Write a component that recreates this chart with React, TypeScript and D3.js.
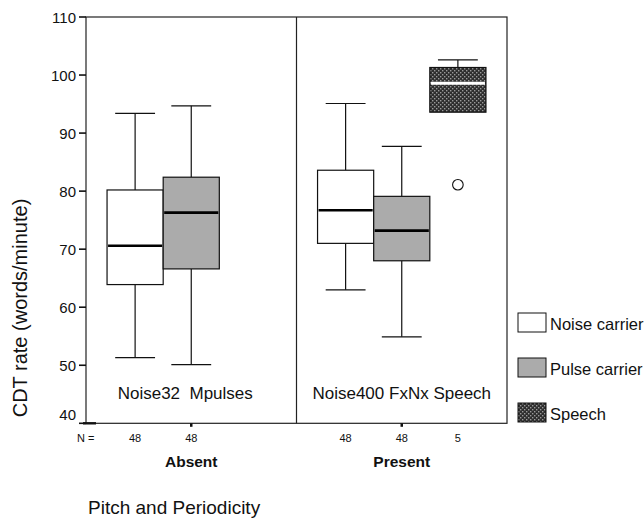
import React from "react";
import * as d3 from "d3";

const groups = ["Absent", "Present"];
const carriers = ["Noise carrier", "Pulse carrier", "Speech"];
const panelLabels = ["Noise32  Mpulses", "Noise400 FxNx Speech"];
const yTicks = [40, 50, 60, 70, 80, 90, 100, 110];

const boxGroup = ["Absent", "Absent", "Present", "Present", "Present"];
const boxCarrier = ["Noise carrier", "Pulse carrier", "Noise carrier", "Pulse carrier", "Speech"];
const whiskerLow = [51.3, 50.1, 63.0, 54.9, 93.6];
const q1 = [63.9, 66.6, 71.0, 68.0, 93.6];
const median = [70.6, 76.3, 76.7, 73.2, 98.6];
const q3 = [80.2, 82.4, 83.6, 79.1, 101.3];
const whiskerHigh = [93.4, 94.7, 95.1, 87.7, 102.6];
const nCounts = [48, 48, 48, 48, 5];
const outlierBox = [4];
const outlierValue = [81.1];

const W = 644;
const H = 520;
const M = { left: 86, right: 507, top: 17, bottom: 423.3 };
const FONT = "'Liberation Sans', Arial, Helvetica, sans-serif";

export default function App() {
  const x = d3.scaleBand().domain(groups).range([M.left, M.right]).padding(0);
  const xs = d3
    .scaleBand()
    .domain(carriers)
    .range([0, x.bandwidth()])
    .paddingInner(0)
    .paddingOuter(0.375);
  const y = d3.scaleLinear().domain([40, 110]).range([M.bottom, M.top]);
  const bw = xs.bandwidth();
  const capW = bw * 0.71;

  const fillFor = (c: string) =>
    c === "Noise carrier" ? "#ffffff" : c === "Pulse carrier" ? "#ababab" : "url(#speechPat)";
  const medColor = (c: string) => (c === "Speech" ? "#ffffff" : "#000000");

  const centerOf = (i: number) => (x(boxGroup[i]) as number) + (xs(boxCarrier[i]) as number) + bw / 2;

  return (
    <svg
      width={W}
      height={H}
      style={{ position: "absolute", left: 0, top: 0, background: "#fff" }}
      fontFamily={FONT}
    >
      <defs>
        <pattern id="speechPat" width={4} height={4} patternUnits="userSpaceOnUse">
          <rect width={4} height={4} fill="#2e2e2e" />
          <rect x={0} y={0} width={1.4} height={1.4} fill="#9a9a9a" />
          <rect x={2} y={2} width={1.4} height={1.4} fill="#9a9a9a" />
        </pattern>
      </defs>

      {/* frame */}
      <rect
        x={M.left}
        y={M.top}
        width={M.right - M.left}
        height={M.bottom - M.top}
        fill="none"
        stroke="#222"
        strokeWidth={1.2}
      />
      {groups.slice(1).map((g) => (
        <line
          key={g}
          x1={x(g) as number}
          x2={x(g) as number}
          y1={M.top}
          y2={M.bottom}
          stroke="#222"
          strokeWidth={1.2}
        />
      ))}

      {/* y axis ticks */}
      {yTicks.map((t, i) => (
        <g key={t}>
          <line x1={M.left - 7} x2={M.left} y1={y(t)} y2={y(t)} stroke="#111" strokeWidth={1.6} />
          <text
            x={M.left - 10}
            y={y(t) + (i === 0 ? -9 : 0)}
            textAnchor="end"
            dominantBaseline="central"
            fontSize={15}
            fill="#111"
          >
            {t}
          </text>
        </g>
      ))}
      <line x1={M.left - 3} x2={M.left + 10} y1={M.bottom} y2={M.bottom} stroke="#111" strokeWidth={2.4} />

      {/* group ticks on bottom */}
      {groups.map((g) => (
        <line
          key={g}
          x1={(x(g) as number) + x.bandwidth() / 2}
          x2={(x(g) as number) + x.bandwidth() / 2}
          y1={M.bottom}
          y2={M.bottom + 3.5}
          stroke="#111"
          strokeWidth={2.5}
        />
      ))}

      {/* y title */}
      <text
        transform={`translate(27,308) rotate(-90)`}
        textAnchor="middle"
        fontSize={20}
        fill="#111"
      >
        CDT rate (words/minute)
      </text>

      {/* boxes */}
      {boxGroup.map((g, i) => {
        const cx = centerOf(i);
        const c = boxCarrier[i];
        const x0 = cx - bw / 2;
        return (
          <g key={i}>
            {whiskerHigh[i] > q3[i] && (
              <>
                <line x1={cx} x2={cx} y1={y(q3[i])} y2={y(whiskerHigh[i])} stroke="#111" strokeWidth={1.2} />
                <line
                  x1={cx - capW / 2}
                  x2={cx + capW / 2}
                  y1={y(whiskerHigh[i])}
                  y2={y(whiskerHigh[i])}
                  stroke="#111"
                  strokeWidth={1.2}
                />
              </>
            )}
            {whiskerLow[i] < q1[i] && (
              <>
                <line x1={cx} x2={cx} y1={y(q1[i])} y2={y(whiskerLow[i])} stroke="#111" strokeWidth={1.2} />
                <line
                  x1={cx - capW / 2}
                  x2={cx + capW / 2}
                  y1={y(whiskerLow[i])}
                  y2={y(whiskerLow[i])}
                  stroke="#111"
                  strokeWidth={1.2}
                />
              </>
            )}
            <rect
              x={x0}
              y={y(q3[i])}
              width={bw}
              height={y(q1[i]) - y(q3[i])}
              fill={fillFor(c)}
              stroke="#111"
              strokeWidth={1.2}
            />
            <line
              x1={x0 + 1}
              x2={x0 + bw - 1}
              y1={y(median[i])}
              y2={y(median[i])}
              stroke={medColor(c)}
              strokeWidth={c === "Speech" ? 3 : 2.6}
            />
          </g>
        );
      })}

      {/* outliers */}
      {outlierBox.map((b, i) => (
        <circle
          key={i}
          cx={centerOf(b)}
          cy={y(outlierValue[i])}
          r={5.3}
          fill="#fff"
          stroke="#111"
          strokeWidth={1.1}
        />
      ))}

      {/* panel labels */}
      {groups.map((g, i) => (
        <text
          key={g}
          x={(x(g) as number) + x.bandwidth() / 2 + (i === 0 ? -6 : 0)}
          y={399}
          textAnchor="middle"
          fontSize={17}
          fill="#111"
          style={{ whiteSpace: "pre" }}
        >
          {panelLabels[i]}
        </text>
      ))}

      {/* N row */}
      <text x={77} y={441.5} fontSize={11} fill="#111">
        N =
      </text>
      {nCounts.map((n, i) => (
        <text key={i} x={centerOf(i)} y={441.5} textAnchor="middle" fontSize={11} fill="#111">
          {n}
        </text>
      ))}

      {/* group labels */}
      {groups.map((g) => (
        <text
          key={g}
          x={(x(g) as number) + x.bandwidth() / 2}
          y={466.5}
          textAnchor="middle"
          fontSize={15.5}
          fontWeight="bold"
          fill="#111"
        >
          {g}
        </text>
      ))}

      {/* x title */}
      <text x={88} y={514} fontSize={19} fill="#111">
        Pitch and Periodicity
      </text>

      {/* legend */}
      {carriers.map((c, i) => (
        <g key={c} transform={`translate(518,${313 + i * 45})`}>
          <rect width={28} height={19} fill={fillFor(c)} stroke="#111" strokeWidth={1} />
          <text x={32} y={16.5} fontSize={16.5} fill="#111">
            {c}
          </text>
        </g>
      ))}
    </svg>
  );
}
